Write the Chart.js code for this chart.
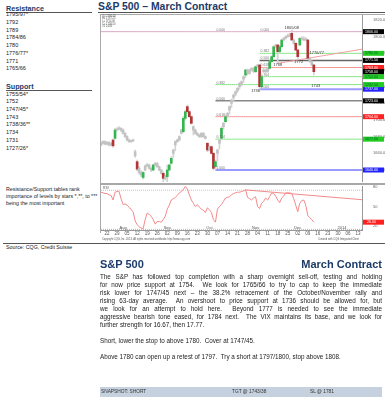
<!DOCTYPE html>
<html>
<head>
<meta charset="utf-8">
<title>S&amp;P 500 – March Contract</title>
<script src="https://cdn.jsdelivr.net/npm/chart.js@4.4.1/dist/chart.umd.min.js"></script>
<style>
  body { margin:0; width:385px; height:400px; overflow:hidden; background:#fff; position:relative;
         font-family:"Liberation Sans", Arial, sans-serif; color:#222; }
  .a { position:absolute; white-space:nowrap; }
  .navy { color:#1c3b68; font-weight:bold; }
  .rule { position:absolute; height:0; border-top:1px solid #555; }
  .lvl { position:absolute; left:6px; font-family:"Liberation Sans Narrow","Liberation Sans",Arial,sans-serif;
         font-size:5.5px; line-height:7.7px; color:#222; }
  .para { position:absolute; left:100px; width:282px; font-size:6.3px; line-height:8px; color:#222; }
  .para div { text-align:justify; text-align-last:justify; }
  .tiny { position:absolute; font-size:2.6px; line-height:2.6px; color:#555; white-space:nowrap; }
  .snap { position:absolute; left:100px; top:387px; width:282px; height:10px; background:#c6d1df;
          font-size:4.8px; line-height:10px; color:#333; }
  .snap span { position:absolute; }
</style>
</head>
<body>
<!-- left column: level tables -->
<div class="a navy" style="left:6px;top:4.4px;font-size:7.2px">Resistance</div>
<div class="rule" style="left:6px;top:12px;width:86px"></div>
<div class="lvl" style="top:11.3px">1795/97*<br>1792<br>1789<br>1784/86<br>1780<br>1776/77*<br>1771<br>1765/66</div>
<div class="a navy" style="left:6px;top:82px;font-size:7.2px">Support</div>
<div class="rule" style="left:6px;top:90px;width:86px"></div>
<div class="lvl" style="top:90.6px">1755/54*<br>1752<br>1747/45*<br>1743<br>1738/36**<br>1734<br>1731<br>1727/26*</div>
<div class="a" style="left:6px;top:186.1px;font-size:5.3px;line-height:7px">Resistance/Support tables rank<br>importance of levels by stars *,**, to ***<br>being the most important</div>
<div class="rule" style="left:3px;top:242.5px;width:382px"></div>
<div class="a" style="left:6px;top:244.3px;font-size:5.3px">Source: CQG, Credit Suisse</div>

<!-- title -->
<div class="a navy" style="left:98px;top:0.8px;font-size:10.4px">S&amp;P 500 – March Contract</div>
<div class="rule" style="left:98px;top:12px;width:287px"></div>

<!-- chart frame -->
<div class="a" style="left:100px;top:14px;width:284px;height:218px;border-left:1px solid #aaa;border-top:1px solid #aaa"></div>
<div class="a" style="left:100px;top:14px;width:285px;height:168px"><canvas id="price" width="285" height="168"></canvas></div>
<div class="a" style="left:100px;top:182.5px;width:285px;height:2.5px;background:#a8a8a8"></div>
<div class="a" style="left:100px;top:185px;width:285px;height:55px"><canvas id="osc" width="285" height="55"></canvas></div>
<div class="tiny" style="left:102px;top:15.8px">O= 1766.00<br>H= 1767.25<br>L= 1754.00<br>C= 1758.50<br>#= 1.000</div>
<div class="tiny" style="left:102px;top:238.6px">Copyright CQG, Inc. 2013. All rights reserved worldwide. http://www.cqg.com</div>
<div class="tiny" style="left:318px;top:238.6px">Created with CQG Integrated Client</div>

<!-- commentary -->
<div class="a navy" style="left:100px;top:258px;font-size:11px">S&amp;P 500</div>
<div class="a navy" style="left:301px;top:258px;font-size:11px;width:81px;text-align:right">March Contract</div>
<div class="para" style="top:272.6px">
  <div>The S&amp;P has followed top completion with a sharp overnight sell-off, testing and holding</div>
  <div>for now price support at 1754.&nbsp; We look for 1765/66 to try to cap to keep the immediate</div>
  <div>risk lower for 1747/45 next – the 38.2% retracement of the October/November rally and</div>
  <div>rising 63-day average.&nbsp; An overshoot to price support at 1736 should be allowed for, but</div>
  <div>we look for an attempt to hold here.&nbsp; Beyond 1777 is needed to see the immediate</div>
  <div>aggressive bearish tone eased, for 1784 next.&nbsp; The VIX maintains its base, and we look for</div>
  <div style="text-align-last:left">further strength for 16.67, then 17.77.</div>
</div>
<div class="para" style="top:336.6px">Short, lower the stop to above 1780.&nbsp; Cover at 1747/45.</div>
<div class="para" style="top:352.6px">Above 1780 can open up a retest of 1797.&nbsp; Try a short at 1797/1800, stop above 1808.</div>
<div class="snap"><span style="left:1px">SNAPSHOT: SHORT</span><span style="left:132px">TGT @ 1743/38</span><span style="left:210px">SL @ 1781</span></div>

<script>
// daily slots, Jul 17 2013 .. mid Jan 2014 (index = trading day)
const N = 131;

const open = [1670,1672,1674,1671,1673,1670,1676,1678,1688,1689,
  1690,1688,1684,1680,1676,1674,1675,1662,1650,1642,
  1637,1631,1640,1645,1646,1642,1640,1646,1648,1644,
  1640,1636,1630,1632,1640,1648,1660,1670,1674,1676,
  1688,1686,1702,1716,1710,1704,1692,1688,1684,1682,
  1680,1684,1680,1672,1664,1668,1660,1644,1660,1672,
  1678,1692,1698,1705,1712,1720,1727,1731,1735,1740,
  1743,1749,1754,1760,1756,1760,1762,1758,1764,1766,
  1740,1758,1760,1758,1762,1770,1776,1788,1790,1782,
  1788,1796,1798,1800,1801,1804,1796,1792,1784,1790,
  1798,1797,1796,1796,1774,1770,1766];
const high = [1674,1675,1675,1674,1674,1673,1677,1690,1691,1692,
  1691,1689,1685,1681,1677,1676,1677,1664,1652,1644,
  1639,1638,1646,1648,1647,1643,1647,1649,1649,1645,
  1641,1638,1634,1646,1647,1656,1665,1675,1677,1681,
  1689,1704,1712,1718,1711,1705,1693,1689,1685,1683,
  1685,1685,1681,1673,1669,1669,1661,1652,1665,1677,
  1692,1697,1706,1709,1717,1725,1731,1735,1739,1745,
  1747,1753,1761,1761,1761,1763,1763,1765,1767,1767,
  1753,1763,1761,1763,1771,1777,1789,1791,1791,1790,
  1797,1799,1801,1803,1804,1808,1797,1793,1785,1799,
  1800,1800,1799,1797,1775,1771,1767];
const low = [1669,1671,1670,1670,1669,1669,1667,1677,1687,1688,
  1686,1683,1679,1675,1673,1673,1674,1655,1639,1635,
  1632,1629,1639,1644,1641,1638,1639,1645,1643,1639,
  1635,1626,1628,1626,1639,1647,1655,1663,1673,1675,
  1683,1685,1700,1708,1703,1695,1682,1683,1681,1679,
  1679,1679,1677,1662,1663,1659,1640,1642,1651,1665,
  1676,1689,1697,1703,1707,1715,1723,1729,1733,1737,
  1741,1745,1751,1754,1755,1759,1757,1757,1763,1736,
  1739,1757,1757,1757,1761,1769,1775,1787,1768,1781,
  1787,1795,1797,1799,1800,1795,1791,1783,1772,1789,
  1796,1795,1795,1773,1769,1765,1754];
const close = [1672,1674,1671,1673,1670,1672,1669,1688,1689,1690,
  1688,1684,1680,1676,1674,1675,1676,1657,1641,1637,
  1634,1637,1645,1646,1642,1640,1646,1648,1644,1640,
  1636,1630,1632,1640,1646,1654,1664,1674,1676,1680,
  1684,1702,1710,1710,1704,1696,1688,1684,1682,1680,
  1684,1680,1678,1664,1668,1660,1642,1650,1664,1676,
  1690,1696,1704,1708,1716,1724,1730,1734,1738,1744,
  1746,1752,1760,1756,1760,1762,1758,1764,1766,1740,
  1752,1760,1758,1762,1770,1776,1788,1790,1782,1788,
  1796,1798,1800,1801,1802,1796,1792,1784,1776,1798,
  1797,1796,1797,1774,1770,1766,1758];

const osc = [72,71,70,70,68,67,60,72,73,73,
  62,53,54,52,49,45,42,28,22,19,
  17,16,30,40,38,35,30,23,27,27,
  26,30,35,46,52,60,62,64,67,71,
  73,76,81,77,68,60,55,50,53,49,
  46,44,41,48,45,41,30,26,46,50,
  53,58,63,64,65,68,70,71,72,72,
  73,74,76,64,62,60,63,65,50,47,
  55,58,63,60,65,71,70,66,60,56,
  63,66,71,71,71,70,62,52,42,55,
  59,60,52,36,33,30,26];

const priceTicks = [1820,1800,1780,1760,1740,1720,1700,1680,1660,1640];
const oscTicks = [80,50,20];
const oscBands = [75,15];

const weekIdx = [3,8,13,18,23,28,33,38,43,48,53,58,63,68,73,78,83,88,93,98,103,108,113,118,123,128];
const weekLabels = ['22','29','05','12','19','26','02','09','16','23','30','07','14','21','28','04','11','18','25','02','09','16','23','30','06','13'];
const monthIdx = [11,33,54,77,98,120];
const monthLabels = ['Aug','Sep','Oct','Nov','Dec','2014'];

// retracement levels (value, first slot, ratio text)
const levelValues = [1806,1780,1771.5,1763,1752,1737,1742.5,1723,1704,1677,1640];
const levelStart  = [0,79,79,79,79,79,57,57,57,57,57];
const levelFib    = ['','0.382','0.500','0.618','0.764','1.000','0.382','0.500','0.618','0.764','1.000'];
const topFibIdx = [57,79];
const levelColors = ['#d9a6c6','#86e586','#666666','#f39494','#86e586','#9b9bff','#86e586','#888888','#f39494','#86e586','#9b9bff'];
const levelWidths = [1,1,1.5,1,1,2,1,1.5,1,1,2];
const boxColors   = ['#000000','#22cc22','#000000','#ff2222','#22cc22','#2323ff','#22cc22','#000000','#ff2222','#22cc22','#2323ff'];

const trendIdx = [88,130];
const trendVal = [1768,1785];
const oscTrendIdx = [72,130];
const oscTrendVal = [75.5,60.5];

const noteText = ['1805/08','1776/77','1772','1768','1736','1743'];
const noteIdx  = [95,107.5,98.5,88,77,107];
const noteVal  = [1810.5,1781,1769.6,1766,1735,1740.8];

const slots = Array.from({ length: N }, (_, i) => i);
const pick = (idx, vals) => slots.map(i => { const k = idx.indexOf(i); return k < 0 ? null : vals[k]; });
const font = '"Liberation Sans", Arial, sans-serif';

function bodyColor(c) {
  const d = close[c.dataIndex] - open[c.dataIndex];
  return d >= 6 ? '#33b64f' : d <= -6 ? '#b23434' : '#c2c2c2';
}

const priceMarks = {
  id: 'priceMarks',
  afterDraw(chart) {
    const { ctx, chartArea: a, scales: { x, y } } = chart;
    ctx.save();
    ctx.textBaseline = 'middle';
    ctx.font = '3.4px ' + font;
    ctx.textAlign = 'left';
    ctx.fillStyle = '#777';
    levelValues.forEach((v, k) => {
      if (levelFib[k]) ctx.fillText(levelFib[k], x.getPixelForValue(levelStart[k]) + 1, y.getPixelForValue(v) - 2);
    });
    topFibIdx.forEach(i => ctx.fillText('0.000', x.getPixelForValue(i) + 1, y.getPixelForValue(levelValues[0]) - 2));

    ctx.font = '4px ' + font;
    ctx.textAlign = 'center';
    ctx.fillStyle = '#333';
    noteText.forEach((t, k) => ctx.fillText(t, x.getPixelForValue(noteIdx[k]), y.getPixelForValue(noteVal[k])));

    ctx.font = '3.6px ' + font;
    ctx.textAlign = 'left';
    const vals = levelValues.concat(close[close.length - 1]);
    const cols = boxColors.concat('#000000');
    vals.forEach((v, k) => {
      const py = y.getPixelForValue(v);
      ctx.fillStyle = cols[k];
      ctx.fillRect(a.right + 1, py - 2.5, 21, 5);
      ctx.fillStyle = cols[k] === '#22cc22' ? '#063' : '#fff';
      ctx.fillText(v.toFixed(2), a.right + 3, py);
    });
    ctx.restore();
  }
};

const oscMarks = {
  id: 'oscMarks',
  afterDraw(chart) {
    const { ctx, chartArea: a, scales: { x, y } } = chart;
    ctx.save();
    ctx.textBaseline = 'middle';
    ctx.textAlign = 'center';
    ctx.font = '4px ' + font;
    ctx.fillStyle = '#555';
    monthLabels.forEach((t, k) => ctx.fillText(t, x.getPixelForValue(monthIdx[k]), a.bottom - 2.5));
    ctx.textAlign = 'left';
    ctx.font = '3.4px ' + font;
    ctx.fillText('RSI', a.left + 2, a.top + 2.5);
    const last = osc[osc.length - 1];
    const py = y.getPixelForValue(last);
    ctx.fillStyle = '#ff2020';
    ctx.fillRect(a.right + 1, py - 2.5, 21, 5);
    ctx.fillStyle = '#fff';
    ctx.font = '3.6px ' + font;
    ctx.fillText(last.toFixed(2), a.right + 5, py);
    ctx.restore();
  }
};

const levelSets = levelValues.map((v, k) => ({
  type: 'line',
  data: slots.map(i => (i >= levelStart[k] ? v : null)),
  borderColor: levelColors[k],
  borderWidth: levelWidths[k],
  pointRadius: 0,
  order: 5
}));

new Chart(document.getElementById('price'), {
  type: 'bar',
  data: {
    labels: slots,
    datasets: [
      { data: open.map((o, i) => [o, close[i]]), backgroundColor: bodyColor, barThickness: 2, minBarLength: 1, grouped: false, order: 0 },
      { data: low.map((l, i) => [l, high[i]]), backgroundColor: '#d2d2d2', barThickness: 1, grouped: false, order: 1 },
      { type: 'line', data: pick(trendIdx, trendVal), spanGaps: true, borderColor: '#f2a0a0', borderWidth: 1, pointRadius: 0, order: 4 },
      ...levelSets
    ]
  },
  options: {
    responsive: false, animation: false, devicePixelRatio: 1,
    layout: { padding: { left: 1, top: 1, right: 0, bottom: 0 } },
    plugins: { legend: { display: false }, tooltip: { enabled: false } },
    scales: {
      x: { display: false, offset: false },
      y: {
        position: 'right', min: 1625.6, max: 1826,
        grid: { display: false }, border: { color: '#999' },
        afterBuildTicks: s => { s.ticks = priceTicks.map(v => ({ value: v })); },
        afterFit: s => { s.width = 23; s.paddingTop = 0; s.paddingBottom = 0; },
        ticks: { padding: 3, font: { size: 4, family: font }, color: '#666', callback: v => v.toFixed(2) }
      }
    }
  },
  plugins: [priceMarks]
});

new Chart(document.getElementById('osc'), {
  type: 'line',
  data: {
    labels: slots,
    datasets: [
      { data: osc, borderColor: '#f28a8a', borderWidth: 1, pointRadius: 0 },
      { data: pick(oscTrendIdx, oscTrendVal), spanGaps: true, borderColor: '#f28a8a', borderWidth: 1, pointRadius: 0 },
      { data: slots.map(() => oscBands[0]), borderColor: '#f5a5a5', borderWidth: 1, borderDash: [1, 1], pointRadius: 0 },
      { data: slots.map(() => oscBands[1]), borderColor: '#a3a3ff', borderWidth: 1, borderDash: [1, 1], pointRadius: 0 }
    ]
  },
  options: {
    responsive: false, animation: false, devicePixelRatio: 1,
    layout: { padding: { left: 1, top: 1, right: 0, bottom: 2.6 } },
    plugins: { legend: { display: false }, tooltip: { enabled: false } },
    scales: {
      x: {
        offset: false,
        grid: { display: false, drawTicks: false }, border: { color: '#999' },
        afterFit: s => { s.paddingLeft = 0; s.paddingRight = 0; },
        ticks: {
          autoSkip: false, maxRotation: 0, padding: 1, font: { size: 4.5, family: font }, color: '#555',
          callback: (v, i) => { const k = weekIdx.indexOf(i); return k < 0 ? null : weekLabels[k]; }
        }
      },
      y: {
        position: 'right', min: 14, max: 81.5,
        grid: { display: false }, border: { color: '#999' },
        afterBuildTicks: s => { s.ticks = oscTicks.map(v => ({ value: v })); },
        afterFit: s => { s.width = 23; s.paddingTop = 0; s.paddingBottom = 0; },
        ticks: { padding: 3, font: { size: 4, family: font }, color: '#666' }
      }
    }
  },
  plugins: [oscMarks]
});
</script>
</body>
</html>
